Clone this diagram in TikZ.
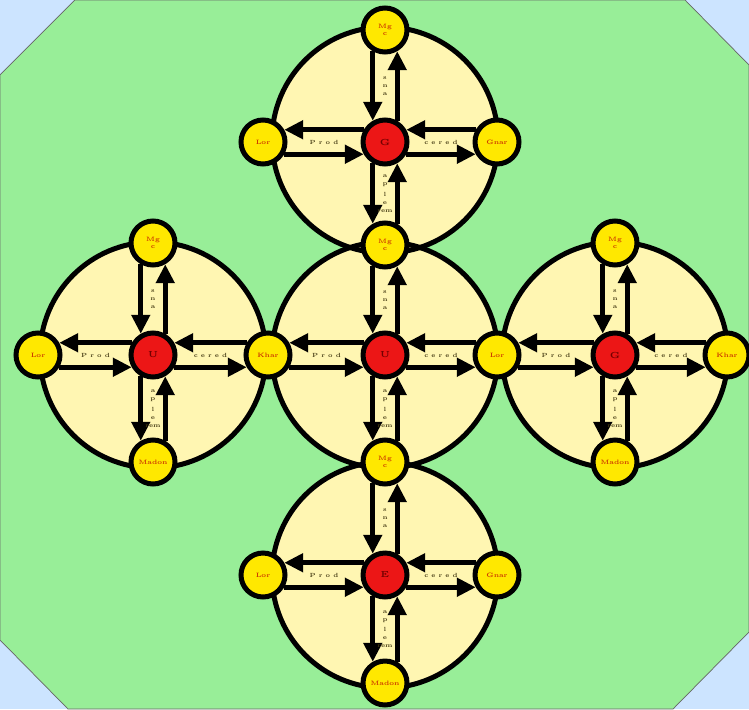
\documentclass[tikz,border=0pt]{standalone}
\usepackage{tikz}
\usetikzlibrary{arrows.meta}

\definecolor{bgblue}{RGB}{204,228,255}
\definecolor{octgreen}{RGB}{152,238,152}
\definecolor{ringyellow}{RGB}{255,246,178}
\definecolor{spotyellow}{RGB}{255,232,0}
\definecolor{hubred}{RGB}{236,22,22}
\definecolor{spottext}{RGB}{205,60,0}
\definecolor{flowtext}{RGB}{70,60,20}

\tikzset{
  ring/.style={line width=0.1cm},
  hub/.style={circle, draw, line width=0.1cm, fill=hubred, minimum size=0.88cm, inner sep=0pt,
    font=\fontsize{5}{5}\selectfont\bfseries, text=red!45!black},
  spot/.style={circle, draw, line width=0.1cm, fill=spotyellow, minimum size=0.88cm, inner sep=0pt,
    align=center, font=\fontsize{3.6}{3.8}\selectfont\bfseries, text=spottext},
  flow/.style={line width=0.1cm, -{Triangle[length=0.38cm,width=0.36cm]}},
  flowlab/.style={font=\fontsize{3.4}{3.4}\selectfont\bfseries, text=flowtext, inner sep=0pt, align=center}
}

\begin{document}
\begin{tikzpicture}[x=0.02cm,y=-0.02cm]
\useasboundingbox (0,0) rectangle (749,709);
% background and octagon
\fill[bgblue] (0,0) rectangle (749,709);
\draw[fill=octgreen, draw=black!60, thin] (75,0) -- (685,0) -- (749,65) -- (749,632) -- (673,709)
  -- (68,709) -- (0,640) -- (0,75) -- cycle;

% the five rings
\foreach \cx/\cy in {385/140, 153/355, 385/355, 615/355, 385/575}
  \fill[ringyellow] (\cx,\cy) circle (113);
\foreach \cx/\cy in {385/140, 153/355, 385/355, 615/355, 385/575}
  \draw[ring] (\cx,\cy) circle (113);

% hubs
\node[hub] (hT) at (385,142) {G};
\node[hub] (hL) at (153,355) {U};
\node[hub] (hC) at (385,355) {U};
\node[hub] (hR) at (615,355) {G};
\node[hub] (hB) at (385,575) {E};

% spots
\node[spot] (sTT) at (385,30) {Mg\\c};
\node[spot] (sTL) at (263,142) {Lor};
\node[spot] (sTR) at (497,142) {Gnar};
\node[spot] (jT) at (385,245) {Mg\\c};
\node[spot] (sLL) at (38,355) {Lor};
\node[spot] (sLT) at (153,243) {Mg\\c};
\node[spot] (sLB) at (153,462) {Madon};
\node[spot] (jL) at (268,355) {Khar};
\node[spot] (jR) at (497,355) {Lor};
\node[spot] (sRT) at (615,243) {Mg\\c};
\node[spot] (sRB) at (615,462) {Madon};
\node[spot] (sRR) at (727,355) {Khar};
\node[spot] (jB) at (385,462) {Mg\\c};
\node[spot] (sBL) at (263,575) {Lor};
\node[spot] (sBR) at (497,575) {Gnar};
\node[spot] (sBB) at (385,683) {Madon};

% flows: hub / left / right / top / bottom
\foreach \h/\l/\r/\t/\b in {hT/sTL/sTR/sTT/jT, hL/sLL/jL/sLT/sLB, hC/jL/jR/jT/jB,
                            hR/jR/sRR/sRT/sRB, hB/sBL/sBR/jB/sBB} {
  \draw[flow] (\h.150) -- (\l.30);
  \draw[flow] (\l.330) -- (\h.210);
  \draw[flow] (\r.150) -- (\h.30);
  \draw[flow] (\h.330) -- (\r.210);
  \draw[flow] (\t.240) -- (\h.120);
  \draw[flow] (\h.60) -- (\t.300);
  \draw[flow] (\h.240) -- (\b.120);
  \draw[flow] (\b.60) -- (\h.300);
  \path (\h) -- (\l) node[midway, flowlab] {P r o d};
  \path (\h) -- (\r) node[midway, flowlab] {c e r e d};
  \path (\h) -- (\t) node[midway, flowlab] {\shortstack{s\\n\\a}};
  \path (\h) -- (\b) node[midway, flowlab] {\shortstack{a\\p\\l\\e\\rem}};
}
\end{tikzpicture}
\end{document}
